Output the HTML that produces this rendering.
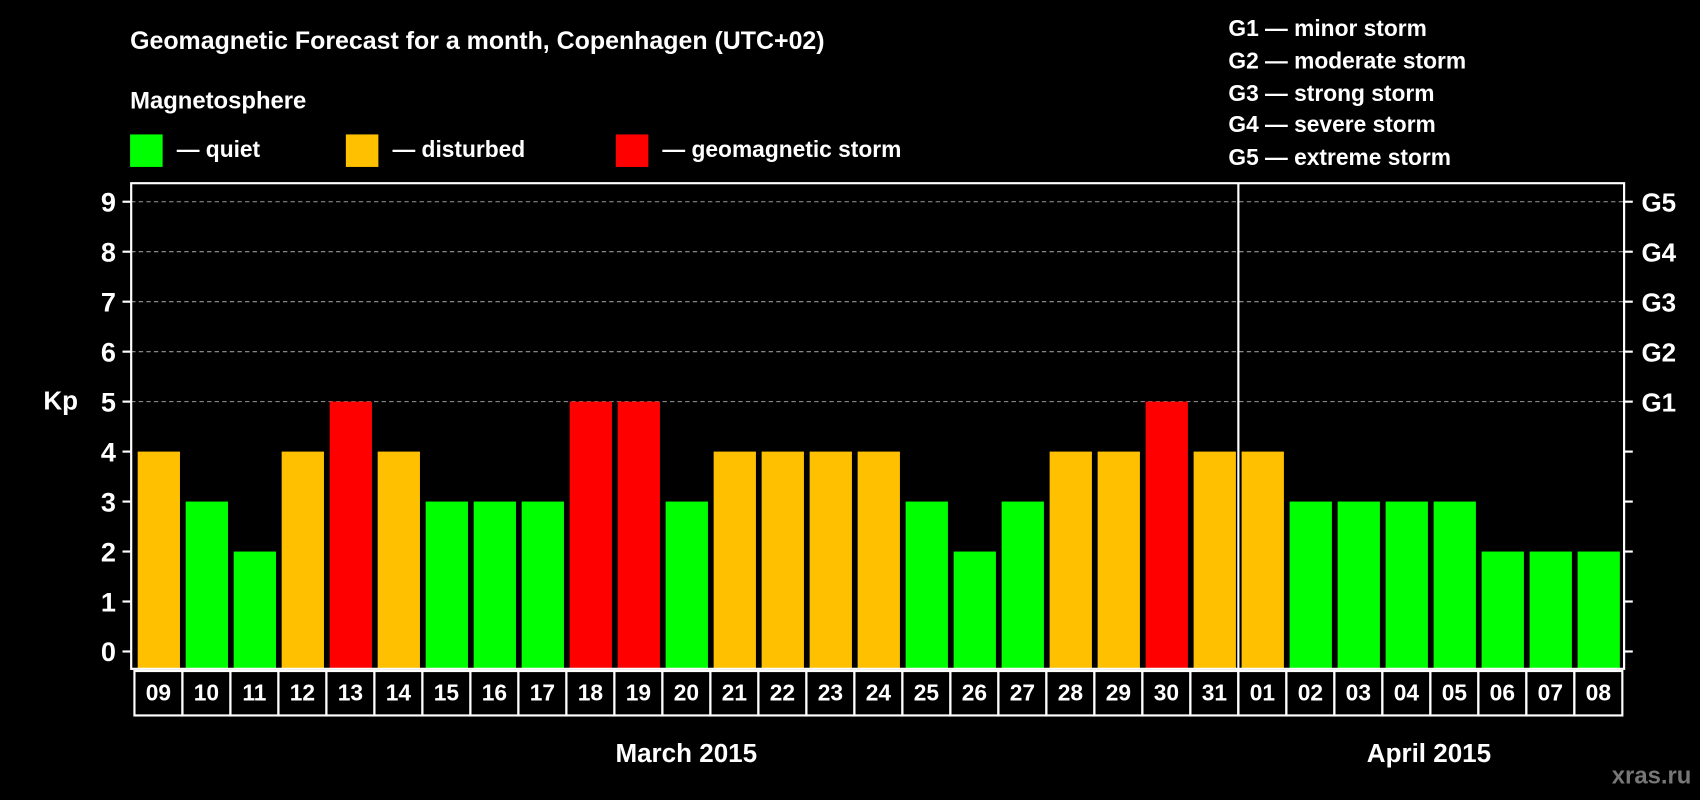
<!DOCTYPE html>
<html><head><meta charset="utf-8"><style>
html,body{margin:0;padding:0;background:#000;}
svg{display:block;font-family:"Liberation Sans",Arial,sans-serif;font-weight:bold;}
</style></head><body>
<svg id="chart" width="1700" height="800" viewBox="0 0 1568 738" preserveAspectRatio="none" xmlns="http://www.w3.org/2000/svg">
<rect x="0" y="0" width="1568" height="738" fill="#000"/>
<text x="120" y="45" fill="#fff" font-size="23">Geomagnetic Forecast for a month, Copenhagen (UTC+02)</text>
<text x="120" y="100" fill="#fff" font-size="22">Magnetosphere</text>
<g><rect x="120" y="124" width="30" height="30" fill="#00ff00"/><text x="163" y="145" fill="#fff" font-size="21">— quiet</text></g>
<g><rect x="319" y="124" width="30" height="30" fill="#ffc000"/><text x="362" y="145" fill="#fff" font-size="21">— disturbed</text></g>
<g><rect x="568" y="124" width="30" height="30" fill="#ff0000"/><text x="611" y="145" fill="#fff" font-size="21">— geomagnetic storm</text></g>
<g fill="#fff" font-size="21">
<text x="1133" y="33">G1 — minor storm</text>
<text x="1133" y="63">G2 — moderate storm</text>
<text x="1133" y="93">G3 — strong storm</text>
<text x="1133" y="122">G4 — severe storm</text>
<text x="1133" y="152">G5 — extreme storm</text>
</g>
<g id="grid"></g>
<g id="bars"></g>
<g id="axes"></g>
<text x="40" y="378" fill="#fff" font-size="24">Kp</text>
<text x="633" y="703" fill="#fff" font-size="24" text-anchor="middle">March 2015</text>
<text x="1318" y="703" fill="#fff" font-size="24" text-anchor="middle">April 2015</text>
<text x="1560" y="723" fill="#777" font-size="22" text-anchor="end">xras.ru</text>
</svg>
<script>
const days = ["09","10","11","12","13","14","15","16","17","18","19","20","21","22","23","24","25","26","27","28","29","30","31","01","02","03","04","05","06","07","08"];
const kpValues = [4,3,2,4,5,4,3,3,3,5,5,3,4,4,4,4,3,2,3,4,4,5,4,4,3,3,3,3,2,2,2];
const yTicks = [0,1,2,3,4,5,6,7,8,9];
const gLabels = ["G1","G2","G3","G4","G5"];
const NS="http://www.w3.org/2000/svg";
const L=121,R=1498,T=169,B=617;
const y0=601,unit=46.1;
const x0=124,pitch=44.27;
function yS(v){return y0-v*unit;}
function xS(i){return x0+i*pitch;}
function mk(tag,attrs,parent){const e=document.createElementNS(NS,tag);for(const k in attrs)e.setAttribute(k,attrs[k]);parent.appendChild(e);return e;}
const grid=document.getElementById('grid'),bars=document.getElementById('bars'),axes=document.getElementById('axes');
yTicks.forEach(v=>{
  if(v>=5){const g=mk('line',{x1:L,x2:R,y1:yS(v),y2:yS(v),stroke:'#999','stroke-dasharray':'4,3','stroke-width':1},grid);
  
  }
  const t=mk('line',{x1:L-8,x2:L,y1:yS(v),y2:yS(v),stroke:'#fff','stroke-width':2},axes);
  
  
  const t2=mk('line',{x1:R,x2:R+8,y1:yS(v),y2:yS(v),stroke:'#fff','stroke-width':2},axes);
  
  
  const lb=mk('text',{x:L-14,y:yS(v)+9,fill:'#fff','font-size':25,'text-anchor':'end'},axes);
  lb.textContent=v;
  
  
});
gLabels.forEach((g,i)=>{
  const lb=mk('text',{x:R+16,y:yS(5+i)+9,fill:'#fff','font-size':24},axes);
  lb.textContent=g;
  
  
});
kpValues.forEach((v,i)=>{
  const col=v>=5?'#ff0000':(v>=4?'#ffc000':'#00ff00');
  const b=mk('rect',{x:xS(i)+3,y:yS(v),width:39,height:B-yS(v),fill:col},bars);
  
  
  const c=mk('rect',{x:xS(i),y:B+2,width:pitch,height:41,fill:'none',stroke:'#fff','stroke-width':2},axes);
  
  
  const t=mk('text',{x:xS(i)+pitch/2,y:B+29,fill:'#fff','font-size':21,'text-anchor':'middle'},axes);
  t.textContent=days[i];
  
  
});
const frame=mk('rect',{x:L,y:T,width:R-L,height:B-T,fill:'none',stroke:'#fff','stroke-width':2},axes);


const mi=days.indexOf("01");
const dv=mk('line',{x1:xS(mi),x2:xS(mi),y1:T,y2:B+43,stroke:'#fff','stroke-width':2},axes);


</script>
</body></html>
